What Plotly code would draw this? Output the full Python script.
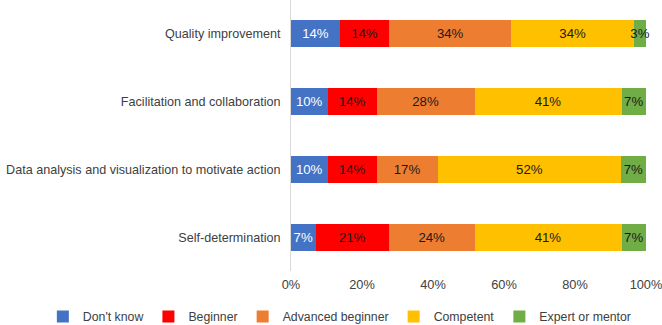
import plotly.graph_objects as go

categories = ["Quality improvement", "Facilitation and collaboration",
              "Data analysis and visualization to motivate action", "Self-determination"]
series_names = ["Don't know", "Beginner", "Advanced beginner", "Competent", "Expert or mentor"]
dont_know = [13.8, 10.3, 10.3, 6.9]
beginner = [13.8, 13.8, 13.8, 20.7]
advanced_beginner = [34.5, 27.6, 17.2, 24.1]
competent = [34.5, 41.4, 51.7, 41.4]
expert = [3.4, 6.9, 6.9, 6.9]
tick_vals = [0, 20, 40, 60, 80, 100]
tick_text = ["0%", "20%", "40%", "60%", "80%", "100%"]

colors = ["#4472C4", "#FF0000", "#ED7D31", "#FFC000", "#70AD47"]
text_colors = ["white", "#1a1a1a", "#1a1a1a", "#1a1a1a", "#1a1a1a"]
values = [dont_know, beginner, advanced_beginner, competent, expert]

FONT = "Liberation Sans, Arial"

fig = go.Figure()
for name, vals, c, tc in zip(series_names, values, colors, text_colors):
    fig.add_trace(go.Bar(
        y=categories, x=vals, name=name, orientation="h",
        marker=dict(color=c, line=dict(width=0)),
        text=[f"{v:.0f}%" for v in vals],
        textposition="inside", insidetextanchor="middle", textangle=0,
        constraintext="none", cliponaxis=False,
        textfont=dict(family=FONT, size=13.2, color=tc),
        hoverinfo="skip",
    ))

fig.update_layout(
    barmode="stack", bargap=0.6,
    width=662, height=325,
    margin=dict(l=291, r=16, t=0, b=54, autoexpand=False),
    paper_bgcolor="white", plot_bgcolor="white",
    font=dict(family=FONT, size=13, color="#404040"),
    xaxis=dict(range=[0, 100], tickvals=tick_vals, ticktext=tick_text,
               showgrid=False, zeroline=False, showline=False, ticks="",
               ticklabelstandoff=4, automargin=False, ticklabeloverflow="allow",
               tickfont=dict(size=12.8, color="#404040")),
    yaxis=dict(autorange="reversed", showgrid=False, showline=True,
               linecolor="#D9D9D9", linewidth=1, ticks="", ticklabelstandoff=7,
               automargin=False,
               tickfont=dict(size=12.6, color="#404040")),
    legend=dict(orientation="h", xref="paper", yref="paper",
                x=-0.699, xanchor="left", y=-0.168, yanchor="middle",
                bgcolor="rgba(0,0,0,0)",
                font=dict(size=12.3, color="#404040"),
                itemwidth=30, traceorder="normal", tracegroupgap=0),
    showlegend=True,
)

fig.write_html("out.html")
